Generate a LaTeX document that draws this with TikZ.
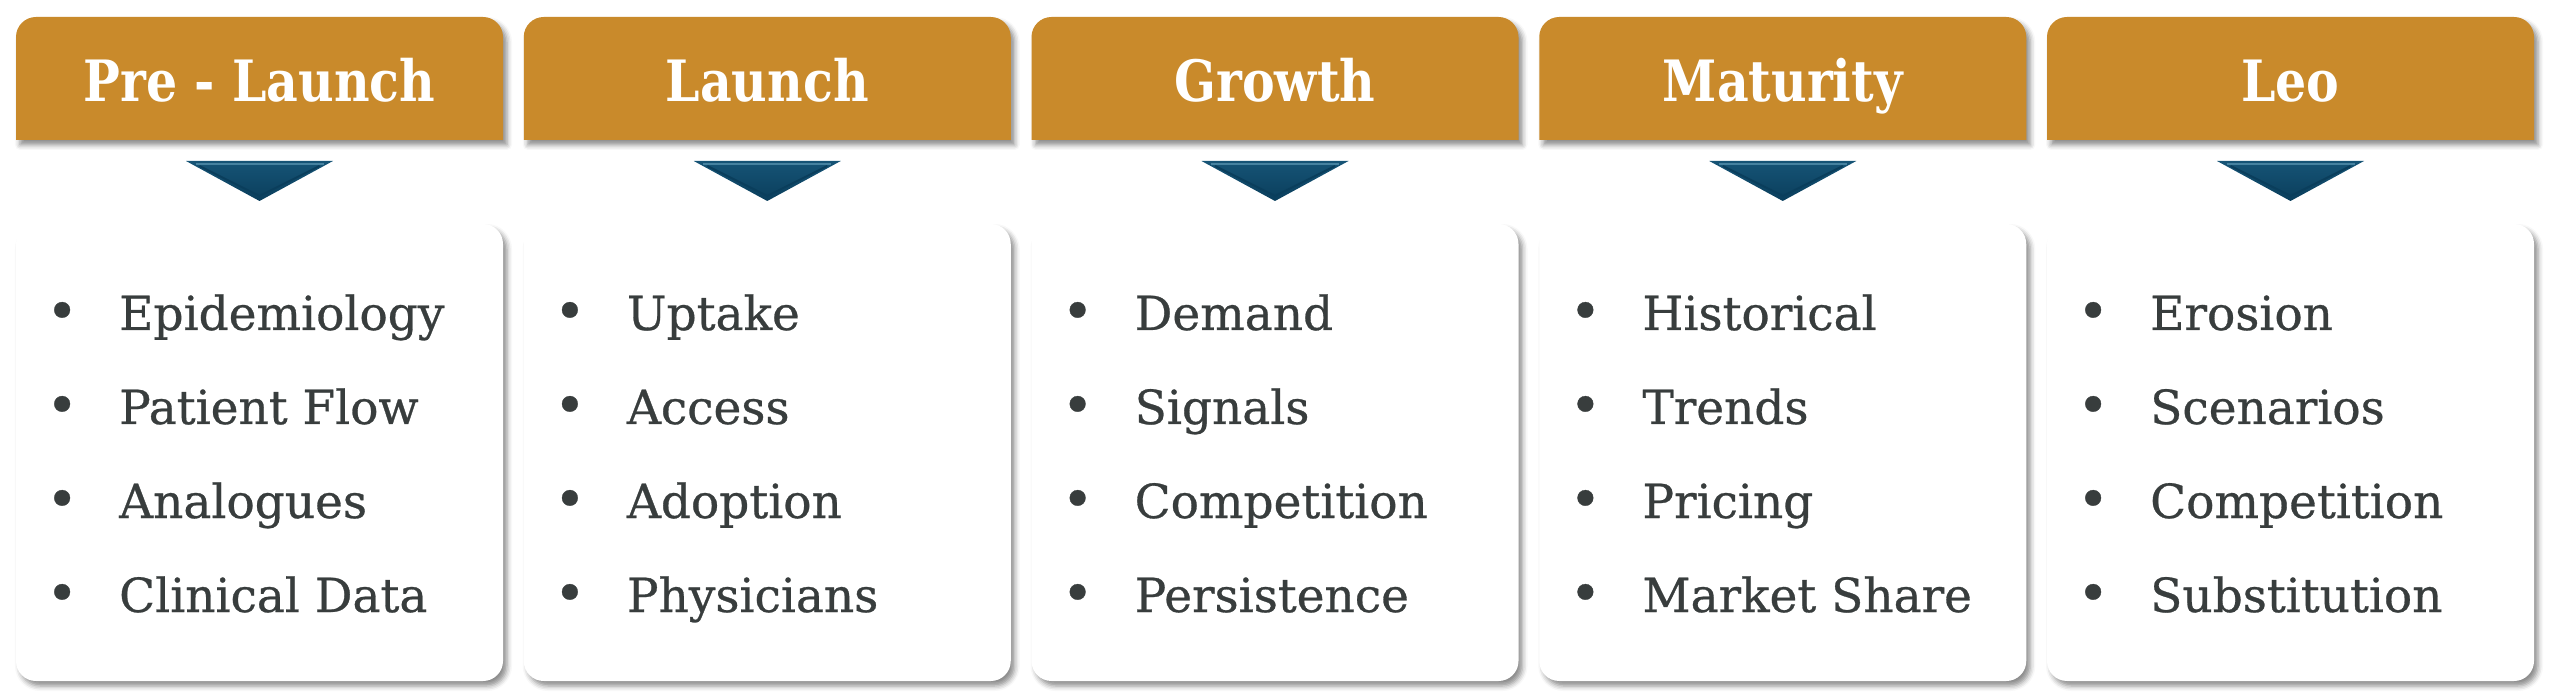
\documentclass[tikz,border=0pt]{standalone}
\usepackage{fontspec}
\setmainfont{DejaVu Serif}
\newfontfamily\headfont{DejaVu Serif Bold}[FakeStretch=0.86]
\newfontfamily\itemfont{DejaVu Serif}[FakeBold=0.6]
\usetikzlibrary{shadows.blur}
\definecolor{headgold}{RGB}{201,138,43}
\definecolor{itemgray}{RGB}{56,61,61}
\definecolor{tealdark}{RGB}{10,62,92}
\definecolor{tealmid}{RGB}{22,84,118}
\definecolor{teallight}{RGB}{70,130,160}

\begin{document}
\begin{tikzpicture}[x=1pt, y=-1pt,
  headbox/.style={fill=headgold, blur shadow={shadow xshift=4pt, shadow yshift=-5pt, shadow blur radius=5pt, shadow opacity=45}},
  bodybox/.style={fill=white, rounded corners=20pt, minimum width=487pt, minimum height=457pt,
    blur shadow={shadow xshift=4pt, shadow yshift=-5pt, shadow blur radius=5pt, shadow opacity=45}},
  headlabel/.style={text=white, font=\headfont\fontsize{57}{68}\selectfont, anchor=base, inner sep=0pt},
  itemlabel/.style={text=itemgray, font=\itemfont\fontsize{47}{56}\selectfont, anchor=base west, inner sep=0pt}
]
  \useasboundingbox (0,0) rectangle (2560,700);
  \foreach \name/\items [count=\i] in {%
    Pre - Launch/{Epidemiology,Patient Flow,Analogues,Clinical Data},
    Launch/{Uptake,Access,Adoption,Physicians},
    Growth/{Demand,Signals,Competition,Persistence},
    Maturity/{Historical,Trends,Pricing,Market Share},
    Leo/{Erosion,Scenarios,Competition,Substitution}} {
    \pgfmathsetmacro\xa{16+507.75*(\i-1)}
    \pgfmathsetmacro\xb{\xa+487}
    \pgfmathsetmacro\cx{\xa+243.5}
    % header tab
    \fill[headbox] (\xa,140) [rounded corners=20pt] -- (\xa,17) -- (\xb,17) [sharp corners] -- (\xb,140) -- cycle;
    \node[headlabel] (h\i) at (\cx,102) {\name};
    % down arrow
    \shade[top color=tealmid, bottom color=tealdark] ({\cx-73.5},161) -- ({\cx+73.5},161) -- (\cx,201) -- cycle;
    \draw[teallight, line width=2.5pt] ({\cx-64},164) -- ({\cx+64},164);
    \draw[tealdark, line width=2pt] ({\cx-60},166) -- (\cx,196) -- ({\cx+60},166);
    % item box
    \node[bodybox] (b\i) at (\cx,452.5) {};
    \foreach \txt [count=\k] in \items {
      \pgfmathsetmacro\ty{330+94*(\k-1)}
      \node[itemlabel] (b\i-\k) at ({\xa+30},\ty) {\makebox[73pt][l]{\scalebox{1.15}{\textbullet}}\txt};
    }
  }
\end{tikzpicture}
\end{document}
